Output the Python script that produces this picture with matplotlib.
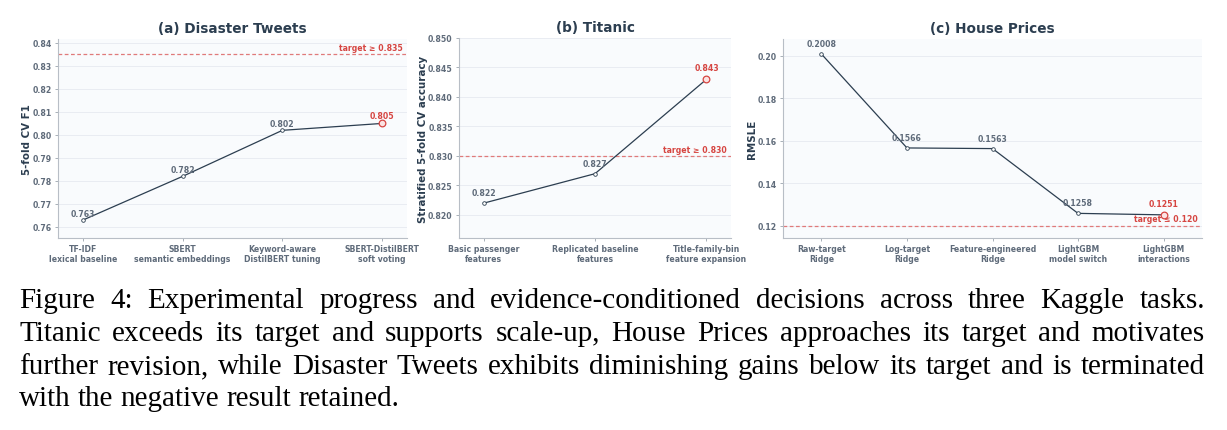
import numpy as np
import matplotlib.pyplot as plt

# data
tweets_steps = ['TF-IDF\nlexical baseline', 'SBERT\nsemantic embeddings',
                'Keyword-aware\nDistilBERT tuning', 'SBERT-DistilBERT\nsoft voting']
tweets_f1 = [0.763, 0.782, 0.802, 0.805]
tweets_labels = ['0.763', '0.782', '0.802', '0.805']
tweets_target = 0.835

titanic_steps = ['Basic passenger\nfeatures', 'Replicated baseline\nfeatures',
                 'Title-family-bin\nfeature expansion']
titanic_acc = [0.822, 0.827, 0.843]
titanic_labels = ['0.822', '0.827', '0.843']
titanic_target = 0.830

house_steps = ['Raw-target\nRidge', 'Log-target\nRidge', 'Feature-engineered\nRidge',
               'LightGBM\nmodel switch', 'LightGBM\ninteractions']
house_rmsle = [0.2008, 0.1566, 0.1563, 0.1258, 0.1251]
house_labels = ['0.2008', '0.1566', '0.1563', '0.1258', '0.1251']
house_target = 0.120

caption_lines = [
    "Figure 4:  Experimental progress and evidence-conditioned decisions across three Kaggle tasks.",
    "Titanic exceeds its target and supports scale-up, House Prices approaches its target and motivates",
    "further revision, while Disaster Tweets exhibits diminishing gains below its target and is terminated",
    "with the negative result retained.",
]

DARK = '#2c3e50'
GREY = '#5f6b7a'
RED = '#d64541'
RED_LINE = '#e07a7a'

W, H = 1227, 431
fig = plt.figure(figsize=(W / 100, H / 100), dpi=100)


def px_axes(left, right, top, bottom):
    return fig.add_axes([left / W, 1 - bottom / H, (right - left) / W, (bottom - top) / H])


def panel(ax, title, ylabel, steps, vals, labels, target, tgt_text, ylim, xlim, yticks, fmt,
          lab_off):
    x = np.arange(len(vals))
    ax.set_facecolor('#f9fbfd')
    ax.grid(axis='y', color='#e6eaf0', lw=0.6)
    ax.set_axisbelow(True)
    for s in ['top', 'right']:
        ax.spines[s].set_visible(False)
    for s in ['left', 'bottom']:
        ax.spines[s].set_color('#b8bec6')
        ax.spines[s].set_linewidth(0.8)
    ax.axhline(target, color=RED_LINE, ls='--', lw=0.9, dashes=(3, 2))
    ax.plot(x, vals, color=DARK, lw=0.9, marker='o', ms=2.6, mfc='white', mec=DARK, mew=0.6,
            zorder=3)
    ax.plot(x[-1], vals[-1], 'o', ms=4.8, mfc='#fbe3e3', mec=RED, mew=0.9, zorder=4)
    for i, (v, lab) in enumerate(zip(vals, labels)):
        last = i == len(vals) - 1
        ax.annotate(lab, (i, v), xytext=(0, lab_off + (1 if last else 0)),
                    textcoords='offset points', ha='center', va='center', fontsize=5.6,
                    fontweight='bold', color=RED if last else GREY, zorder=5)
    ax.annotate(tgt_text, (1, target), xycoords=('axes fraction', 'data'),
                xytext=(-3, 5), textcoords='offset points',
                ha='right', va='center', fontsize=5.6, fontweight='bold', color=RED)
    ax.set_xlim(*xlim)
    ax.set_ylim(*ylim)
    ax.set_yticks(yticks)
    ax.set_yticklabels([fmt.format(t) for t in yticks])
    ax.set_xticks(x)
    ax.set_xticklabels(steps)
    ax.tick_params(axis='both', labelsize=5.6, colors='#9aa3ad', labelcolor=GREY,
                   length=2.5, width=0.6, pad=2)
    for t in ax.get_xticklabels() + ax.get_yticklabels():
        t.set_fontweight('bold')
        t.set_linespacing(1.05)
    ax.set_title(title, fontsize=9.8, fontweight='bold', color=DARK, pad=5)
    ax.set_ylabel(ylabel, fontsize=7.4, fontweight='bold', color=DARK, labelpad=0)


ax1 = px_axes(58, 407, 40, 239)
panel(ax1, '(a) Disaster Tweets', '5-fold CV F1', tweets_steps, tweets_f1, tweets_labels,
      tweets_target, 'target ≥ 0.835', (0.7552, 0.8417), (-0.25, 3.25),
      [0.76, 0.77, 0.78, 0.79, 0.80, 0.81, 0.82, 0.83, 0.84], '{:.2f}', 5)

ax2 = px_axes(459, 731, 39, 239)
panel(ax2, '(b) Titanic', 'Stratified 5-fold CV accuracy', titanic_steps, titanic_acc,
      titanic_labels, titanic_target, 'target ≥ 0.830', (0.8161, 0.850), (-0.22, 2.22),
      [0.820, 0.825, 0.830, 0.835, 0.840, 0.845, 0.850], '{:.3f}', 7.5)

ax3 = px_axes(783, 1202, 40, 239)
panel(ax3, '(c) House Prices', 'RMSLE', house_steps, house_rmsle, house_labels,
      house_target, 'target ≤ 0.120', (0.1142, 0.2079), (-0.45, 4.45),
      [0.12, 0.14, 0.16, 0.18, 0.20], '{:.2f}', 7.5)

# caption, justified like the LaTeX original
renderer = fig.canvas.get_renderer()
cap_kw = dict(fontsize=21, family='Liberation Serif', color='black', va='baseline')
x_left, x_right = 19, 1205
baselines = [308, 341, 374, 406]
probe = fig.text(0, 0, 'a', **cap_kw)
w_a = probe.get_window_extent(renderer).width
probe.set_text('a a')
space = probe.get_window_extent(renderer).width - 2 * w_a
probe.remove()
for k, (line, yb) in enumerate(zip(caption_lines, baselines)):
    words = line.replace(':  ', ': ').split(' ')
    texts = [fig.text(0, 1 - yb / H, w, **cap_kw) for w in words]
    widths = [t.get_window_extent(renderer).width for t in texts]
    if k < len(caption_lines) - 1:
        gap = (x_right - x_left - sum(widths)) / (len(words) - 1)
    else:
        gap = space
    xpos = x_left
    for t, w in zip(texts, widths):
        t.set_x(xpos / W)
        xpos += w + gap

fig.savefig('out.png', dpi=100)
